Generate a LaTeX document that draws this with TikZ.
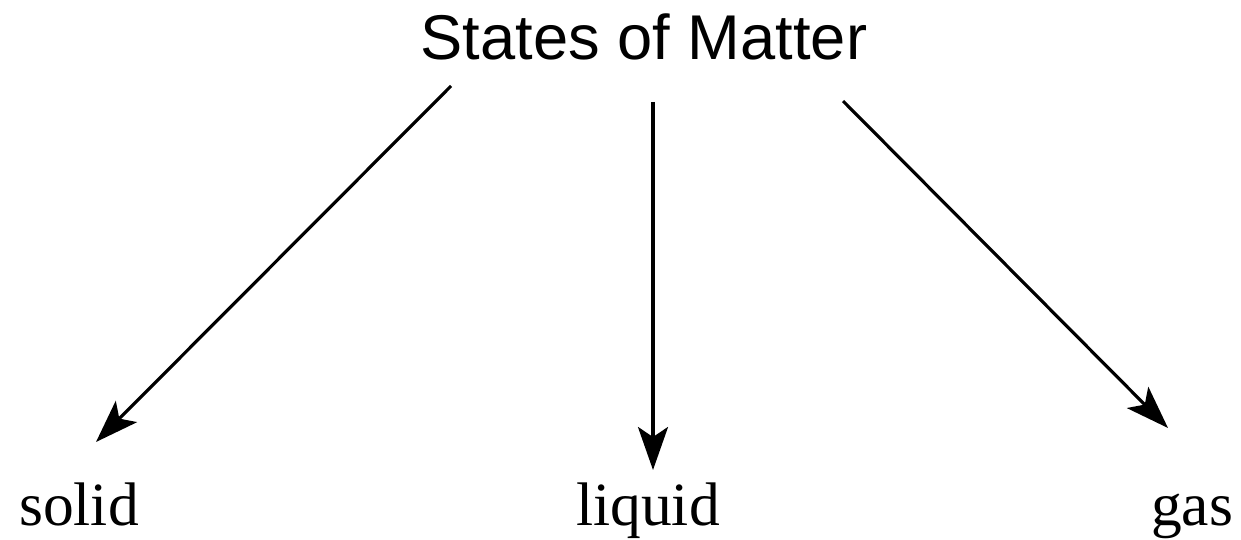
\documentclass[tikz,border=0pt]{standalone}
\usepackage{fontspec}
\setmainfont{Liberation Serif}
\newfontfamily\headfont{Liberation Sans}
\usetikzlibrary{arrows.meta}
\begin{document}
\begin{tikzpicture}[x=0.02cm,y=-0.02cm,
  conn/.style={line width=1.8pt,-{Stealth[length=0.86cm,width=0.6cm,inset=0.2cm]}},
  leaf/.style={font=\fontsize{35}{40}\selectfont,anchor=base,inner sep=0pt},
  head/.style={font=\headfont\fontsize{36}{42}\selectfont,anchor=base,inner sep=0pt}]
\useasboundingbox (0,0) rectangle (1241,540);
\node[head] (top) at (644,60) {States of Matter};
\node[leaf] (solid) at (79,525) {solid};
\node[leaf] (liquid) at (648,525) {liquid};
\node[leaf] (gas) at (1192,525) {gas};
\coordinate (s1) at (451,86);
\coordinate (e1) at (96,442);
\coordinate (s2) at (653,102);
\coordinate (e2) at (653,470);
\coordinate (s3) at (843,101);
\coordinate (e3) at (1168,428);
\draw[conn] (s1) -- (e1);
\draw[conn] (s2) -- (e2);
\draw[conn] (s3) -- (e3);
\end{tikzpicture}
\end{document}
